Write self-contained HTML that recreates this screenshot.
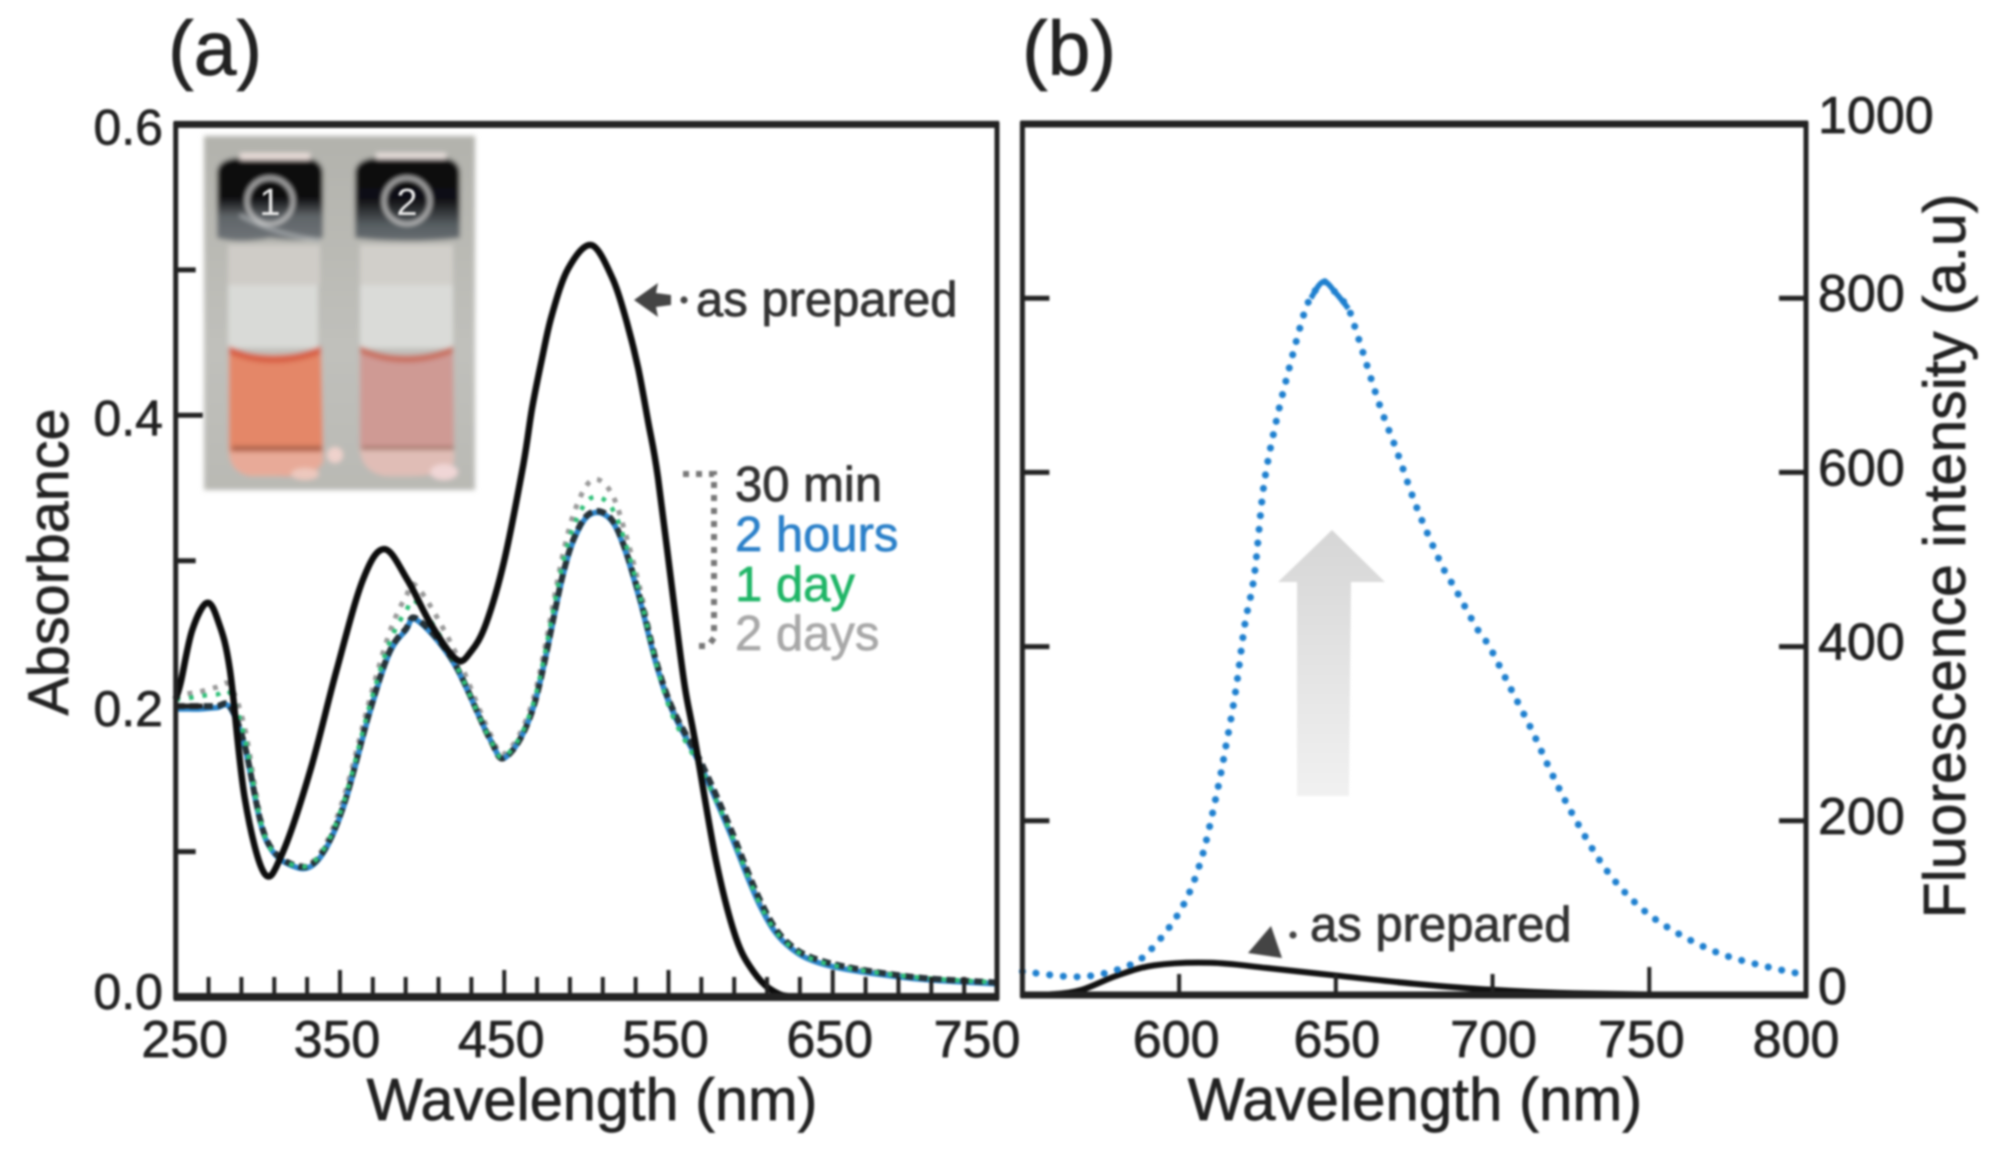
<!DOCTYPE html>
<html lang="en">
<head>
<meta charset="utf-8">
<title>Absorbance and fluorescence spectra</title>
<style>
html,body{margin:0;padding:0;background:#fff;width:2002px;height:1151px;overflow:hidden}
#figure{display:block;filter:blur(1.1px)}
text{font-family:"Liberation Sans",Arial,sans-serif;fill:#222;stroke:currentColor;stroke-width:0}
.heavy{stroke:#222;stroke-width:0.7px}
</style>
</head>
<body>
<svg id="figure" xmlns="http://www.w3.org/2000/svg" width="2002" height="1151" viewBox="0 0 2002 1151">
  <defs>
    <filter id="soft" x="-5%" y="-5%" width="110%" height="110%"><feGaussianBlur stdDeviation="2.4"/></filter>
    <linearGradient id="arrowFade" x1="0" y1="0" x2="0" y2="1">
      <stop offset="0" stop-color="#d6d6d6"/><stop offset="1" stop-color="#f1f1f1"/>
    </linearGradient>
    <linearGradient id="bgGrad" x1="0" y1="0" x2="0" y2="1">
      <stop offset="0" stop-color="#b2b2ac"/><stop offset="0.6" stop-color="#c0c0bb"/><stop offset="1" stop-color="#b9b9b4"/>
    </linearGradient>
    <linearGradient id="capL" x1="0" y1="0" x2="0" y2="1">
      <stop offset="0" stop-color="#0b0b0d"/><stop offset="0.48" stop-color="#0e0e10"/><stop offset="0.7" stop-color="#5f6468"/><stop offset="1" stop-color="#6f7478"/>
    </linearGradient>
    <linearGradient id="capR" x1="0" y1="0" x2="0" y2="1">
      <stop offset="0" stop-color="#0b0b0d"/><stop offset="0.5" stop-color="#111113"/><stop offset="0.8" stop-color="#565d61"/><stop offset="1" stop-color="#686e72"/>
    </linearGradient>
  </defs>

  <g id="vial-photo">
    <g filter="url(#soft)">
      <rect x="204" y="136" width="271" height="354" fill="url(#bgGrad)"/>
      <g>
        <rect x="228" y="245" width="90" height="103" fill="#d9dad7"/>
        <rect x="228" y="245" width="92" height="40" fill="#cfccc7"/>
        <path d="M229 348 Q272 362 321 348 L323 448 L323 462 Q315 478 280 476 L250 476 Q230 472 229 448 Z" fill="#e48768"/>
        <path d="M229 346 Q272 366 321 346 L321 354 Q272 372 229 354 Z" fill="#d85f45"/>
        <rect x="232" y="446" width="90" height="5" fill="#a8604c"/>
        <path d="M229 452 L323 452 L323 462 Q315 478 280 476 L250 476 Q230 472 229 452 Z" fill="#e8aa98"/>
        <path d="M217 172 Q218 160 236 158 L306 158 Q323 160 323 174 L323 238 Q300 242 270 238 Q240 244 217 238 Z" fill="url(#capL)"/>
        <rect x="240" y="153" width="70" height="7" fill="#e8dcd8"/>
        <path d="M240 215 Q275 235 320 240" fill="none" stroke="#a9adb0" stroke-width="3"/>
        <circle cx="270" cy="201" r="23" fill="none" stroke="#d8d8d8" stroke-width="2.5"/>
      </g>
      <g>
        <rect x="360" y="245" width="93" height="103" fill="#dadbd8"/>
        <rect x="360" y="245" width="93" height="40" fill="#d1cfca"/>
        <path d="M360 348 Q405 362 453 348 L454 448 L454 462 Q445 476 410 476 L385 476 Q362 472 360 448 Z" fill="#cf9a94"/>
        <path d="M360 346 Q405 366 453 346 L453 353 Q405 372 360 353 Z" fill="#c9705f"/>
        <rect x="362" y="446" width="92" height="4" fill="#a77a70"/>
        <path d="M360 450 L454 450 L454 462 Q445 476 410 476 L385 476 Q362 472 360 450 Z" fill="#e0bdb6"/>
        <path d="M355 172 Q356 160 374 158 L444 158 Q460 160 460 174 L460 238 Q408 244 355 238 Z" fill="url(#capR)"/>
        <rect x="376" y="153" width="70" height="6" fill="#e8dfdc"/>
        <circle cx="407" cy="201" r="23" fill="none" stroke="#d8d8d8" stroke-width="2.5"/>
      </g>
      <circle cx="335" cy="455" r="8" fill="#efd2cc"/>
      <ellipse cx="444" cy="472" rx="14" ry="8" fill="#f0d6d6"/>
      <ellipse cx="305" cy="474" rx="14" ry="6" fill="#edc8bd"/>
    </g>
    <text x="270" y="215" text-anchor="middle" font-size="38" style="fill:#e8e8e8">1</text>
    <text x="407" y="215" text-anchor="middle" font-size="38" style="fill:#e8e8e8">2</text>
  </g>

  <polygon id="grey-arrow" points="1332,530 1385,582 1351,582 1349,796 1297,796 1297,582 1278,582" fill="url(#arrowFade)"/>

  <g id="panelA"></g>
  <g id="panelB"></g>

  <text class="heavy" x="168" y="75" font-size="77">(a)</text>
  <text class="heavy" x="1022" y="75" font-size="77">(b)</text>

  <text class="heavy" transform="translate(68,562) rotate(-90)" text-anchor="middle" font-size="57.5">Absorbance</text>
  <text class="heavy" transform="translate(1965,556) rotate(-90)" text-anchor="middle" font-size="59">Fluorescence intensity (a.u)</text>
  <text class="heavy" x="592" y="1120" text-anchor="middle" font-size="59.5">Wavelength (nm)</text>
  <text class="heavy" x="1415" y="1120" text-anchor="middle" font-size="60">Wavelength (nm)</text>

  <g>
    <polygon points="634,300 658,283 656,293 671,295 671,305 656,307 658,317" fill="#444"/>
    <circle cx="684" cy="300" r="3.6" fill="#444"/>
    <text class="heavy" x="696" y="316" font-size="49" style="fill:#333">as prepared</text>
  </g>
  <g>
    <polygon points="1248,953 1271,926 1282,958" fill="#444"/>
    <circle cx="1293" cy="935" r="3.6" fill="#444"/>
    <text class="heavy" x="1310" y="941" font-size="49" style="fill:#333">as prepared</text>
  </g>

  <g>
    <path d="M683 474 H714 V638 L708 646 H693" fill="none" stroke="#777" stroke-width="6" stroke-dasharray="6 7"/>
    <text class="heavy" x="735" y="501" font-size="49" style="fill:#333">30 min</text>
    <text x="735" y="551" font-size="49" style="fill:#2b80c9;stroke:#2b80c9;stroke-width:0.7px">2 hours</text>
    <text x="735" y="601" font-size="49" style="fill:#1fb566;stroke:#1fb566;stroke-width:0.7px">1 day</text>
    <text x="735" y="650" font-size="49" style="fill:#a8a8a8;stroke:#a8a8a8;stroke-width:0.7px">2 days</text>
  </g>
</svg>

<script>
// Panel (a): absorbance spectra
const asPreparedNm = [250,253,260,269,276,283,292,304,315,332,348,364,377,391,405,421,430,439,450,461.6,467,473,479,489,503,516,524.6,531.6,537.7,543.6,554,560,566,579,591,602,614,630,690,750];
const asPreparedAbs = [0.205,0.216,0.252,0.271,0.258,0.225,0.137,0.085,0.099,0.156,0.225,0.287,0.308,0.287,0.257,0.232,0.238,0.257,0.3,0.366,0.405,0.439,0.469,0.501,0.517,0.494,0.464,0.432,0.395,0.357,0.264,0.213,0.177,0.0935,0.041,0.017,0.004,0,0,0];
const agedNm = [250,255,265,275,283,292,305,324,338,352,368,380,390,397,419,441,451,468,486,496,505,515,523,533,543,553,570,587,606,622,646,697,750];
const thirtyMinAbs = [0.205,0.208,0.21,0.213,0.214,0.185,0.11,0.091,0.099,0.136,0.204,0.25,0.275,0.282,0.24,0.182,0.168,0.206,0.306,0.343,0.356,0.347,0.322,0.279,0.23,0.197,0.16,0.116,0.064,0.038,0.024,0.014,0.01];
const oneDayAbs = [0.205,0.205,0.207,0.208,0.209,0.178,0.108,0.09,0.098,0.133,0.2,0.243,0.265,0.271,0.232,0.178,0.166,0.203,0.3,0.333,0.344,0.337,0.315,0.274,0.227,0.192,0.156,0.115,0.063,0.037,0.023,0.014,0.01];
const twoHoursAbs = [0.198,0.198,0.198,0.199,0.199,0.172,0.108,0.089,0.096,0.13,0.195,0.236,0.252,0.259,0.23,0.178,0.165,0.2,0.291,0.323,0.333,0.328,0.309,0.271,0.227,0.195,0.158,0.114,0.062,0.036,0.022,0.013,0.009];
const twoDaysAbs = [0.2,0.2,0.2,0.2,0.2,0.173,0.109,0.09,0.097,0.131,0.196,0.237,0.253,0.26,0.231,0.178,0.165,0.2,0.292,0.324,0.334,0.329,0.31,0.273,0.229,0.197,0.161,0.118,0.066,0.038,0.024,0.014,0.01];
const xMajorA = [350,450,550,650];
const xMinorA = [270,290,310,330,370,390,410,430,470,490,510,530,570,590,610,630,670,690,710,730];
const xLabelsA = ["250","350","450","550","650","750"];
const yMajorA = [0.2,0.4];
const yMinorA = [0.1,0.3,0.5];
const yLabelsA = ["0.0","0.2","0.4","0.6"];

// Panel (b): fluorescence spectra
const treatedNm = [550,569,584,592,601,607,612,615,618,621,624,627,631,636,640,642,646,650,654,656.6,658.2,664,669.5,676,684,688,695,699,705.5,712.4,718.8,725.6,736,747,759,773,788,800];
const treatedIntensity = [27,21,34,56,101,155,231,287,348,426,482,584,659,732,784,800,819,806,788,761,743,677,624,558,492,467,421,400,354,305,255,207,145,101,71,47,32,23];
const asPreparedEmNm = [550,560,569,580,592,610,628,651,675,700,726,760,800];
const asPreparedIntensity = [0,1,6,22,34,37,31,22,13,6,2,0,0];
const xTicksB = [600,650,700,750];
const xLabelsB = ["600","650","700","750","800"];
const yTicksB = [200,400,600,800];
const yLabelsB = ["0","200","400","600","800","1000"];

const NS = 'http://www.w3.org/2000/svg';
const panelA = document.getElementById('panelA');
const panelB = document.getElementById('panelB');

function xA(nm){ return 175.7 + (nm - 250) * (997 - 175.7) / 500; }
function yA(v){ return 997 - v * (997 - 124.4) / 0.6; }
function xB(nm){ return 1022.4 + (nm - 550) * (1806 - 1022.4) / 250; }
function yB(v){ return 995 - v * (995 - 124) / 1000; }

function add(parent, tag, attrs){
  const el = document.createElementNS(NS, tag);
  for (const k in attrs) el.setAttribute(k, attrs[k]);
  parent.appendChild(el);
  return el;
}
function curve(xs, ys, fx, fy){
  const p = xs.map((x, i) => [fx(x), fy(ys[i])]);
  let d = 'M' + p[0][0].toFixed(1) + ' ' + p[0][1].toFixed(1);
  for (let i = 0; i < p.length - 1; i++){
    const a = p[Math.max(0, i - 1)], b = p[i], c = p[i + 1], e = p[Math.min(p.length - 1, i + 2)];
    const c1x = b[0] + (c[0] - a[0]) / 6, c1y = b[1] + (c[1] - a[1]) / 6;
    const c2x = c[0] - (e[0] - b[0]) / 6, c2y = c[1] - (e[1] - b[1]) / 6;
    d += 'C' + c1x.toFixed(1) + ' ' + c1y.toFixed(1) + ' ' + c2x.toFixed(1) + ' ' + c2y.toFixed(1) + ' ' + c[0].toFixed(1) + ' ' + c[1].toFixed(1);
  }
  return d;
}
function line(parent, x1, y1, x2, y2, w){
  return add(parent, 'line', {x1: x1, y1: y1, x2: x2, y2: y2, stroke: '#222', 'stroke-width': w});
}
function label(parent, x, y, txt, anchor, size){
  const t = add(parent, 'text', {x: x, y: y, 'text-anchor': anchor, 'font-size': size, 'class': 'heavy'});
  t.textContent = txt;
  return t;
}

/* --- Panel (a) series --- */
const s30 = add(panelA, 'path', {d: curve(agedNm, thirtyMinAbs, xA, yA), fill: 'none', stroke: '#9a9a9a', 'stroke-width': 5, 'stroke-dasharray': '5 8'});


const s2h = add(panelA, 'path', {d: curve(agedNm, twoHoursAbs, xA, yA), fill: 'none', stroke: '#2d86cc', 'stroke-width': 5.5});


const s2d = add(panelA, 'path', {d: curve(agedNm, twoDaysAbs, xA, yA), fill: 'none', stroke: '#263238', 'stroke-width': 6, 'stroke-dasharray': '9 5'});


const s1d = add(panelA, 'path', {d: curve(agedNm, oneDayAbs, xA, yA), fill: 'none', stroke: '#2fbf78', 'stroke-width': 4.5, 'stroke-dasharray': '4.5 9'});


const sPrep = add(panelA, 'path', {d: curve(asPreparedNm, asPreparedAbs, xA, yA), fill: 'none', stroke: '#0d0d0d', 'stroke-width': 6.5});



/* --- Panel (a) axes --- */
const frameA = add(panelA, 'rect', {x: xA(250), y: yA(0.6), width: xA(750) - xA(250), height: yA(0) - yA(0.6), fill: 'none', stroke: '#222', 'stroke-width': 5});


line(panelA, xA(250) - 2, yA(0.6), xA(750) + 2, yA(0.6), 7);
line(panelA, xA(250) - 2, yA(0), xA(750) + 2, yA(0), 8);
xMajorA.forEach(function(nm){
  const tick = line(panelA, xA(nm), yA(0), xA(nm), yA(0) - 27, 4);
  
  
});
xMinorA.forEach(function(nm){
  const tick = line(panelA, xA(nm), yA(0), xA(nm), yA(0) - 20, 4);
  
  
});
yMajorA.forEach(function(v){
  const tick = line(panelA, xA(250), yA(v), xA(250) + 27, yA(v), 5);
  
  
});
yMinorA.forEach(function(v){
  const tick = line(panelA, xA(250), yA(v), xA(250) + 20, yA(v), 5);
  
  
});
xLabelsA.forEach(function(s, i){
  const nm = Number(s);
  const shift = i === 0 ? 9 : (i === xLabelsA.length - 1 ? -20 : -3);
  const t = label(panelA, xA(nm) + shift, 1057, s, 'middle', 52);
  
  
});
yLabelsA.forEach(function(s){
  const t = label(panelA, 163, yA(Number(s)) + 18 + (Number(s) === 0 ? -6 : 2), s, 'end', 50);
  
  
});

/* --- Panel (b) series --- */
const sEmPrep = add(panelB, 'path', {d: curve(asPreparedEmNm, asPreparedIntensity, xB, yB), fill: 'none', stroke: '#111', 'stroke-width': 6});


const sEm = add(panelB, 'path', {d: curve(treatedNm, treatedIntensity, xB, yB), fill: 'none', stroke: '#1f80cf', 'stroke-width': 7, 'stroke-dasharray': '0.1 13.6', 'stroke-linecap': 'round'});


const peakIdx = treatedNm.map(function(n, i){ return n >= 642 && n <= 654 ? i : -1; }).filter(function(i){ return i >= 0; });
const sPeak = add(panelB, 'path', {d: curve(peakIdx.map(function(i){ return treatedNm[i]; }), peakIdx.map(function(i){ return treatedIntensity[i]; }), xB, yB), fill: 'none', stroke: '#1f80cf', 'stroke-width': 5.5});



/* --- Panel (b) axes --- */
const frameB = add(panelB, 'rect', {x: xB(550), y: yB(1000), width: xB(800) - xB(550), height: yB(0) - yB(1000), fill: 'none', stroke: '#222', 'stroke-width': 5});


line(panelB, xB(550) - 2, yB(1000), xB(800) + 2, yB(1000), 7);
line(panelB, xB(550) - 2, yB(0), xB(800) + 2, yB(0), 7);
xTicksB.forEach(function(nm){
  const tick = line(panelB, xB(nm), yB(0), xB(nm), yB(0) - (nm === 750 ? 28 : 21), 4);
  
  
});
yTicksB.forEach(function(v){
  const left = line(panelB, xB(550), yB(v), xB(550) + 27, yB(v), 5);
  
  
  const right = line(panelB, xB(800), yB(v), xB(800) - 27, yB(v), 5);
  
  
});
xLabelsB.forEach(function(s, i){
  const nm = Number(s);
  const shift = i === xLabelsB.length - 1 ? -10 : (i === 3 ? -8 : (i === 0 ? -3 : 1));
  const t = label(panelB, xB(nm) + shift, 1057, s, 'middle', 52);
  
  
});
yLabelsB.forEach(function(s){
  const v = Number(s);
  const t = label(panelB, 1818, yB(v) + 13 + ((v === 0 || v === 1000) ? -4 : 0), s, 'start', 52);
  
  
});
</script>
</body>
</html>
